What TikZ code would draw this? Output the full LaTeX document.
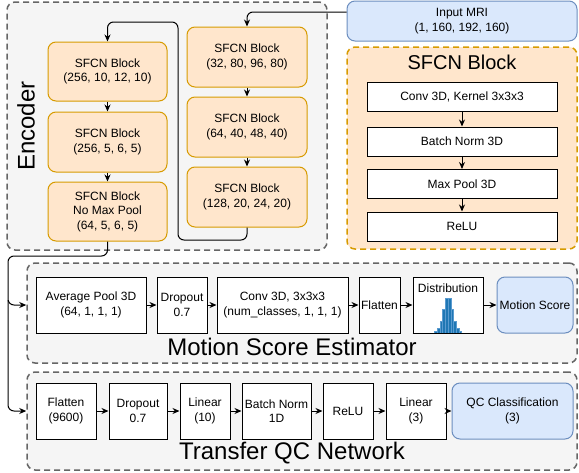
\documentclass[tikz,border=0pt]{standalone}
\usepackage{fontspec}
\setmainfont{Liberation Sans}
\usetikzlibrary{arrows.meta,calc}
\definecolor{cgray}{HTML}{F5F5F5}
\definecolor{cdash}{HTML}{666666}
\definecolor{corange}{HTML}{FFE6CC}
\definecolor{corstroke}{HTML}{D79B00}
\definecolor{cblue}{HTML}{DAE8FC}
\definecolor{cbluestroke}{HTML}{6C8EBF}
\definecolor{cbar}{HTML}{1F77B4}
\definecolor{cbaredge}{HTML}{5A9BD0}
\begin{document}
\begin{tikzpicture}[x=1pt,y=-1pt,
  every node/.style={font=\fontsize{12}{14.5}\selectfont, align=center, inner sep=0pt},
  container/.style={draw=cdash, fill=cgray, line width=1.5pt, dash pattern=on 6pt off 4pt, rounded corners=8pt},
  sfcncont/.style={draw=corstroke, fill=corange, line width=1.5pt, dash pattern=on 6pt off 4pt, rounded corners=8pt},
  sfcn/.style={draw=corstroke, fill=corange, line width=1pt, rounded corners=8pt, minimum width=120pt, minimum height=60pt},
  wbox/.style={draw=black, fill=white, line width=1pt},
  bbox/.style={draw=cbluestroke, fill=cblue, line width=1pt, rounded corners=8pt},
  title/.style={font=\fontsize{20}{24}\selectfont},
  bigtitle/.style={font=\fontsize{24}{28}\selectfont},
  arr/.style={draw=black, line width=1pt, -{Stealth[length=7pt,width=6pt]}, rounded corners=6pt}
]
\useasboundingbox (0,0) rectangle (579,472);

% containers
\node[container, minimum width=320pt, minimum height=248pt] (enc) at (167,126) {};
\node[rotate=90, bigtitle] (enclabel) at (26,126) {Encoder};

\node[bbox, minimum width=230pt, minimum height=40pt] (in) at (462,21) {Input MRI\\(1, 160, 192, 160)};
\node[sfcncont, minimum width=230pt, minimum height=202pt] (sfcnc) at (462,148) {};
\node[title] (sfcntitle) at (462,62) {SFCN Block};

\node[container, minimum width=550pt, minimum height=100pt] (mse) at (302,313) {};
\node[bigtitle] (msetitle) at (292,347) {Motion Score Estimator};
\node[container, minimum width=550pt, minimum height=98pt] (tqc) at (302,421) {};
\node[bigtitle] (tqctitle) at (292,453) {Transfer QC Network};

% encoder blocks
\node[sfcn, minimum width=119pt, minimum height=59pt] (l1) at (107.5,71.5) {SFCN Block\\(256, 10, 12, 10)};
\node[sfcn, minimum width=119pt, minimum height=60pt] (l2) at (107.5,142) {SFCN Block\\(256, 5, 6, 5)};
\node[sfcn, minimum width=119pt, minimum height=59pt] (l3) at (107.5,211.5) {SFCN Block\\No Max Pool\\(64, 5, 6, 5)};
\node[sfcn] (r1) at (247,57) {SFCN Block\\(32, 80, 96, 80)};
\node[sfcn] (r2) at (247,127) {SFCN Block\\(64, 40, 48, 40)};
\node[sfcn] (r3) at (247,197) {SFCN Block\\(128, 20, 24, 20)};

% SFCN block detail
\node[wbox, minimum width=190pt, minimum height=29pt] (s1) at (462,96.5) {Conv 3D, Kernel 3x3x3};
\node[wbox, minimum width=190pt, minimum height=29pt] (s2) at (462,141.5) {Batch Norm 3D};
\node[wbox, minimum width=190pt, minimum height=29pt] (s3) at (462,184) {Max Pool 3D};
\node[wbox, minimum width=190pt, minimum height=29pt] (s4) at (462,226.5) {ReLU};

% motion score estimator
\node[wbox, minimum width=110pt, minimum height=56pt] (avg) at (91,305) {Average Pool 3D\\(64, 1, 1, 1)};
\node[wbox, minimum width=50pt, minimum height=56pt] (drop1) at (182,305) {Dropout\\0.7};
\node[wbox, minimum width=131pt, minimum height=56pt] (conv) at (282.5,305) {Conv 3D, 3x3x3\\(num\_classes, 1, 1, 1)};
\node[wbox, minimum width=41pt, minimum height=56pt] (flat1) at (379.5,305) {Flatten};
\node[wbox, minimum width=70pt, minimum height=56pt] (dist) at (448,305) {};
\node (distlabel) at (448,288) {Distribution};
\node[bbox, minimum width=76pt, minimum height=56pt] (ms) at (535,305) {Motion Score};

% histogram
\foreach \i/\h in {0/2,1/5,2/12,3/24,4/35,5/35,6/24,7/12,8/5,9/2}{
  \fill[cbar] (434.5+\i*2.7,333) rectangle ++(2.7,-\h);
  \draw[cbaredge, line width=0.3pt] (434.5+\i*2.7,333) rectangle ++(2.7,-\h);
}
\draw[black, line width=1pt] (dist.south west) -- (dist.south east);

% transfer QC network
\node[wbox, minimum width=60pt, minimum height=56pt] (flat2) at (66,411) {Flatten\\(9600)};
\node[wbox, minimum width=58pt, minimum height=56pt] (drop2) at (138,411) {Dropout\\0.7};
\node[wbox, minimum width=50pt, minimum height=56pt] (lin1) at (205,411) {Linear\\(10)};
\node[wbox, minimum width=69pt, minimum height=56pt] (bn) at (276.5,411) {Batch Norm\\1D};
\node[wbox, minimum width=50pt, minimum height=56pt] (relu) at (348,411) {ReLU};
\node[wbox, minimum width=60pt, minimum height=56pt] (lin2) at (416,411) {Linear\\(3)};
\node[bbox, minimum width=121pt, minimum height=56pt] (qc) at (512.5,411) {QC Classification\\(3)};

% connectors
\draw[arr] ([yshift=9pt]in.west) -| (r1.north);
\draw[arr] (r1) -- (r2);
\draw[arr] (r2) -- (r3);
\draw[arr] (r3.south) |- (178,240) -- (178,22) -| (l1.north);
\draw[arr] (l1) -- (l2);
\draw[arr] (l2) -- (l3);
\draw[arr] (l3.south) |- (8,256) |- (avg.west -| mse.west);
\draw[arr] (8,300) |- (flat2.west -| tqc.west);

\draw[arr] (s1) -- (s2);
\draw[arr] (s2) -- (s3);
\draw[arr] (s3) -- (s4);

\draw[arr] (avg) -- (drop1);
\draw[arr] (drop1) -- (conv);
\draw[arr] (conv) -- (flat1);
\draw[arr] (flat1) -- (dist);
\draw[arr] (dist) -- (ms);

\draw[arr] (flat2) -- (drop2);
\draw[arr] (drop2) -- (lin1);
\draw[arr] (lin1) -- (bn);
\draw[arr] (bn) -- (relu);
\draw[arr] (relu) -- (lin2);
\draw[arr] (lin2) -- (qc);
\end{tikzpicture}
\end{document}
